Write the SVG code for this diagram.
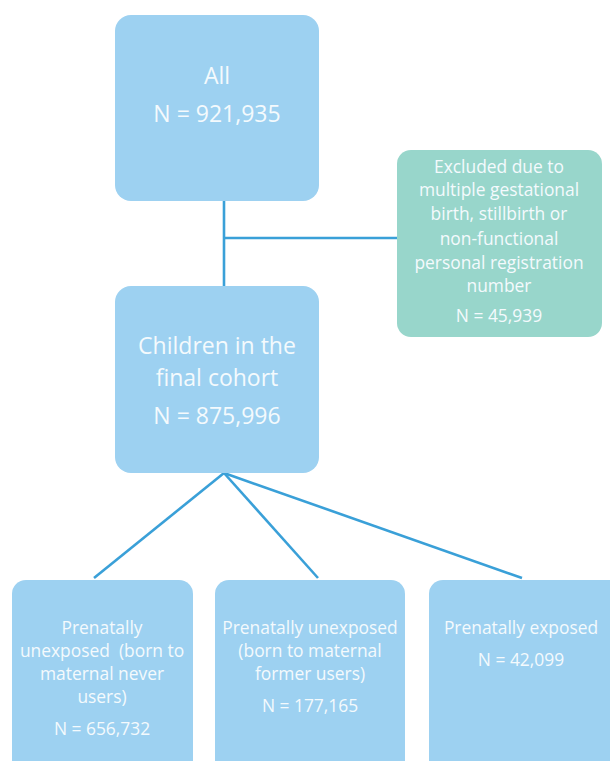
<svg xmlns="http://www.w3.org/2000/svg" width="610" height="761" viewBox="0 0 610 761">
<style>
.box{fill:#9dd1f1}
.excl{fill:#98d6cb}
.t{font-family:"Open Sans","Liberation Sans",sans-serif;fill:#f4fafd;text-anchor:middle}
.big{font-size:23px}
.sm{font-size:17.4px}
.c{stroke:#3aa0d8;stroke-width:2.6;fill:none}
</style>
<rect width="610" height="761" fill="#ffffff"/>
<g id="connectors">
<line class="c" x1="224" y1="201" x2="224" y2="287"/>
<line class="c" x1="224" y1="238" x2="398" y2="238"/>
<line class="c" x1="224" y1="473" x2="94" y2="578"/>
<line class="c" x1="224" y1="473" x2="318" y2="578"/>
<line class="c" x1="224" y1="473" x2="522" y2="578"/>
</g>
<g id="all">
<rect class="box" x="115" y="15" width="204" height="186" rx="16"/>
<text class="t big" x="217" y="84">All</text>
<text class="t big" x="217" y="122">N = 921,935</text>
</g>
<g id="excluded">
<rect class="excl" x="397" y="150" width="205" height="187" rx="14"/>
<text class="t sm" x="499" y="173">Excluded due to</text>
<text class="t sm" x="499" y="196">multiple gestational</text>
<text class="t sm" x="499" y="220">birth, stillbirth or</text>
<text class="t sm" x="499" y="245">non-functional</text>
<text class="t sm" x="499" y="269">personal registration</text>
<text class="t sm" x="499" y="292">number</text>
<text class="t sm" x="499" y="322">N = 45,939</text>
</g>
<g id="cohort">
<rect class="box" x="115" y="286" width="204" height="187" rx="16"/>
<text class="t big" x="217" y="354">Children in the</text>
<text class="t big" x="217" y="386">final cohort</text>
<text class="t big" x="217" y="424">N = 875,996</text>
</g>
<g id="never">
<rect class="box" x="12" y="580" width="181" height="200" rx="14"/>
<text class="t sm" x="102" y="634">Prenatally</text>
<text class="t sm" x="102" y="657" xml:space="preserve" style="white-space:pre">unexposed  (born to</text>
<text class="t sm" x="102" y="680">maternal never</text>
<text class="t sm" x="102" y="703">users)</text>
<text class="t sm" x="102" y="735">N = 656,732</text>
</g>
<g id="former">
<rect class="box" x="215" y="580" width="190" height="200" rx="14"/>
<text class="t sm" x="310" y="634">Prenatally unexposed</text>
<text class="t sm" x="310" y="657">(born to maternal</text>
<text class="t sm" x="310" y="680">former users)</text>
<text class="t sm" x="310" y="712">N = 177,165</text>
</g>
<g id="exposed">
<rect class="box" x="429" y="580" width="200" height="200" rx="14"/>
<text class="t sm" x="521" y="634">Prenatally exposed</text>
<text class="t sm" x="521" y="666">N = 42,099</text>
</g>
</svg>
